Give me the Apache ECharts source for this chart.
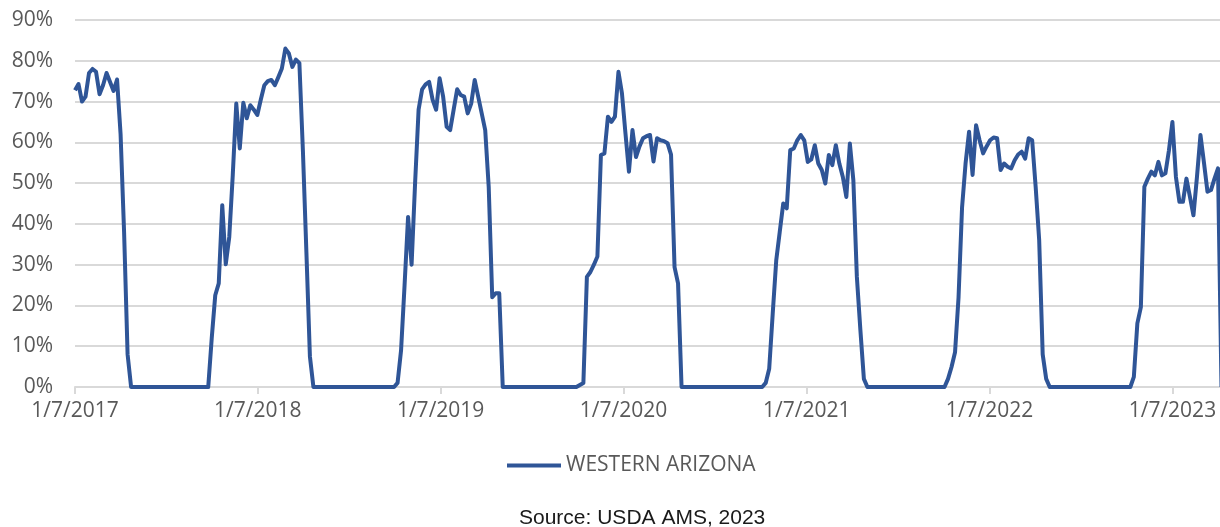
<!DOCTYPE html>
<html>
<head>
<meta charset="utf-8">
<title>Western Arizona</title>
<script src="https://cdn.jsdelivr.net/npm/echarts@6/dist/echarts.min.js"></script>
<style>
  html, body { margin: 0; padding: 0; background: #fff; }
  #chart { width: 1220px; height: 527px; }
</style>
</head>
<body>
<div id="chart"></div>
<script>
// weekly series, first week is 1/7/2017
const firstWeek = Date.UTC(2017, 0, 7)
const axisEnd = Date.UTC(2023, 3, 12)

// values in %, one per week, grouped by calendar year
const values2017 = [
  72.8, 74.3, 70, 71.2, 77, 78, 77.3, 71.8, 74, 77, 74.8, 72.6, 75.4, 62, 38, 8,
  0, 0, 0, 0, 0, 0, 0, 0, 0, 0, 0, 0, 0, 0, 0, 0, 0, 0, 0, 0, 0, 0, 0,
  12, 22.5, 25.4, 44.6, 30.1, 36.8, 52, 69.5, 58.5, 69.7, 65.9, 69.1, 68,
]
const values2018 = [
  66.7, 70.5, 74, 75, 75.3, 74, 76, 78.1, 83, 81.8, 78.5, 80.3, 79.4, 58, 33, 7.5,
  0, 0, 0, 0, 0, 0, 0, 0, 0, 0, 0, 0, 0, 0, 0, 0, 0, 0, 0, 0, 0, 0, 0, 0,
  1, 9, 25, 41.7, 30, 50, 68, 73, 74.2, 74.8, 70.4, 68,
]
const values2019 = [
  75.7, 71.2, 63.8, 63, 68, 73, 71.6, 71.2, 67.1, 69.5, 75.3, 71.2, 67.1, 63, 49, 22, 23, 23,
  0, 0, 0, 0, 0, 0, 0, 0, 0, 0, 0, 0, 0, 0, 0, 0, 0, 0, 0, 0, 0, 0,
  0.5, 1, 27, 28.2, 30, 32, 56.9, 57.3, 66.3, 65, 66.3, 77.3,
]
const values2020 = [
  72, 62.2, 52.8, 63, 56.4, 59, 61, 61.5, 61.8, 55.3, 61, 60.5, 60.3, 59.8, 57, 29.4, 25.4,
  0, 0, 0, 0, 0, 0, 0, 0, 0, 0, 0, 0, 0, 0, 0, 0, 0, 0, 0, 0, 0, 0, 0, 0,
  1, 4.5, 18, 31, 38, 45, 43.8, 58.1, 58.5, 60.5, 61.8,
]
const values2021 = [
  60.5, 55.2, 55.8, 59.3, 54.8, 53.2, 49.9, 56.9, 54.4, 59.3, 54.8, 51.5, 46.6, 59.7, 50.7, 27, 14, 2,
  0, 0, 0, 0, 0, 0, 0, 0, 0, 0, 0, 0, 0, 0, 0, 0, 0, 0, 0, 0, 0, 0, 0,
  2, 4.9, 8.5, 22, 44, 54.8, 62.6, 52, 64.2, 60.5, 57.3,
]
const values2022 = [
  59, 60.5, 61.2, 61, 53.2, 54.8, 54, 53.6, 55.6, 57, 57.7, 56, 61, 60.5, 49, 36, 8, 2,
  0, 0, 0, 0, 0, 0, 0, 0, 0, 0, 0, 0, 0, 0, 0, 0, 0, 0, 0, 0, 0, 0, 0, 0,
  2.5, 15.6, 19.6, 49.1, 51.1, 52.8, 51.9, 55.2, 51.9, 52.4, 58,
]
const values2023 = [
  65, 51.5, 45.4, 45.4, 51.1, 46.6, 42.1, 51.5, 61.8, 55, 47.9, 48.3, 51.1, 53.6, 0,
]

const tickLabels = ['1/7/2017', '1/7/2018', '1/7/2019', '1/7/2020', '1/7/2021', '1/7/2022', '1/7/2023']
const seriesName = 'WESTERN ARIZONA'
const sourceNote = 'Source: USDA AMS, 2023'

const DAY = 86400000
const allValues = [...values2017, ...values2018, ...values2019, ...values2020, ...values2021, ...values2022, ...values2023]
const weekData = allValues.map((v, i) => [firstWeek + i * 7 * DAY, v])

// tick positions come from the label text (m/d/yyyy)
const tickValues = tickLabels.map(s => {
  const [m, d, y] = s.split('/').map(Number)
  return Date.UTC(y, m - 1, d)
})
const fmtDate = v => {
  const d = new Date(v)
  return `${d.getUTCMonth() + 1}/${d.getUTCDate()}/${d.getUTCFullYear()}`
}

const GRID = '#d9d9d9'
const LABEL = '#595959'
const LINE = '#2f5597'
const FONT = '"Open Sans", sans-serif'

const chart = echarts.init(document.getElementById('chart'), null, { renderer: 'canvas' })

chart.setOption({
  animation: false,
  backgroundColor: '#fff',
  title: {
    text: sourceNote,
    left: 514,
    top: 503,
    textStyle: { fontFamily: '"Liberation Sans", Arial, sans-serif', fontSize: 21, fontWeight: 'normal', color: '#1a1a1a' },
  },
  // plain thick line as the legend key, no marker
  legend: {
    data: [seriesName],
    left: 502,
    top: 450,
    icon: 'rect',
    itemWidth: 54,
    itemHeight: 4,
    itemStyle: { color: LINE },
    textStyle: { fontFamily: FONT, fontSize: 21, color: LABEL },
  },
  grid: { left: 75, right: 0, top: 20, bottom: 140 },
  // timestamps on a plain value axis, ticks on each 1/7
  xAxis: {
    type: 'value',
    min: firstWeek,
    max: axisEnd,
    axisLine: { lineStyle: { color: GRID, width: 2 } },
    axisTick: { show: true, customValues: tickValues, length: 7, lineStyle: { color: GRID, width: 2 } },
    axisLabel: {
      customValues: tickValues,
      formatter: v => fmtDate(v),
      margin: 14,
      color: LABEL,
      fontFamily: FONT,
      fontSize: 21,
      hideOverlap: false,
    },
    splitLine: { show: false },
  },
  yAxis: {
    type: 'value',
    min: 0,
    max: 90,
    interval: 10,
    axisLine: { show: false },
    axisTick: { show: false },
    axisLabel: { formatter: '{value}%', margin: 22, color: LABEL, fontFamily: FONT, fontSize: 21 },
    splitLine: { lineStyle: { color: GRID, width: 2 } },
  },
  series: [
    {
      name: seriesName,
      type: 'line',
      data: weekData,
      symbol: 'none',
      clip: true,
      lineStyle: { color: LINE, width: 4, join: 'round' },
      itemStyle: { color: LINE },
    },
  ],
})
</script>
</body>
</html>
